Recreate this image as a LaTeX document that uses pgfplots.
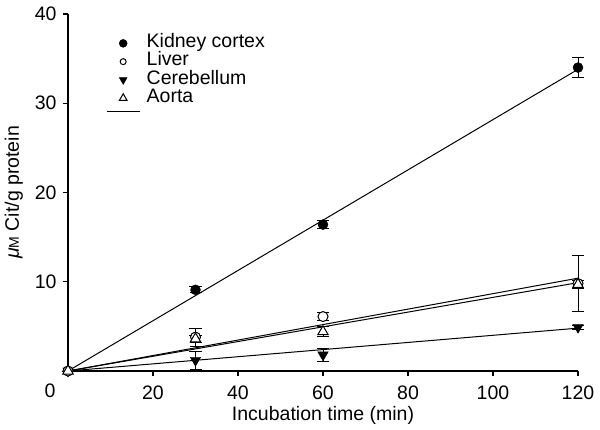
\documentclass[border=0pt]{standalone}
\usepackage{fontspec}
\setmainfont{Liberation Sans}
\usepackage{pgfplots}
\pgfplotsset{compat=1.18}
\newcommand\fs{\fontsize{19.5bp}{22bp}\selectfont}
\begin{document}
\begin{tikzpicture}
\begin{axis}[
 scale only axis, width=510bp, height=357bp,
 xmin=0, xmax=120, ymin=0, ymax=40,
 axis x line*=bottom, axis y line*=left,
 axis line style={line width=1.2bp, -},
 xtick={20,40,...,120}, ytick={10,20,30,40},
 tick align=outside, major tick length=5bp, tick style={line width=1.2bp, black},
 /pgf/number format/assume math mode=true,
 tick label style={font=\fs},
 xticklabel style={yshift=-6bp},
 yticklabel style={xshift=-3bp},
 label style={font=\fs},
 xlabel={Incubation time (min)},
 ylabel={\textit{μ}{\fontsize{14bp}{16bp}\selectfont M} Cit/g protein},
 ylabel style={yshift=5bp},
 clip=false,
 legend style={draw=none, fill=none, font=\fs, at={(rel axis cs:0,1)}, anchor=north west,
   xshift=38.5bp, yshift=-20bp, row sep=0pt, inner sep=0pt,
   nodes={inner sep=0pt, text height=13.5bp, text depth=4.8bp}},
 legend cell align=left,
]
% regression lines
\addplot[black, line width=1bp, forget plot] coordinates {(0,0) (120,33.8)};
\addplot[black, line width=1bp, forget plot] coordinates {(0,0) (120,10.4)};
\addplot[black, line width=1bp, forget plot] coordinates {(0,0) (120,9.9)};
\addplot[black, line width=1bp, forget plot] coordinates {(0,0) (120,4.8)};
% Kidney cortex
\addplot[black, only marks, mark=*, mark size=5bp, forget plot,
  error bars/.cd, y dir=both, y explicit,
  error bar style={line width=1bp, black},
  error mark options={rotate=90, mark size=6bp, line width=1bp, black}]
  table[x=x, y=y, y error=e] {
x y e
0 0 0
30 9.1 0.35
60 16.4 0.45
120 34.0 1.1
};
% Cerebellum
\addplot[black, only marks, mark=triangle*, mark size=6bp, mark options={rotate=180}, forget plot,
  error bars/.cd, y dir=both, y explicit,
  error bar style={line width=1bp, black},
  error mark options={rotate=90, mark size=6bp, line width=1bp, black}]
  table[x=x, y=y, y error=e] {
x y e
0 0 0
30 1.2 1.0
60 1.8 0.7
120 4.9 0.2
};
% Liver
\addplot[black, only marks, mark=*, mark size=5bp, mark options={fill=white, line width=1bp}, forget plot,
  error bars/.cd, y dir=both, y explicit,
  error bar style={line width=1bp, black},
  error mark options={rotate=90, mark size=6bp, line width=1bp, black}]
  table[x=x, y=y, y error=e] {
x y e
0 0 0
30 3.8 1.0
60 6.1 0.45
120 9.8 3.1
};
% Aorta
\addplot[black, only marks, mark=triangle*, mark size=6bp, mark options={fill=white, line width=1bp}, forget plot,
  error bars/.cd, y dir=both, y explicit,
  error bar style={line width=1bp, black},
  error mark options={rotate=90, mark size=6bp, line width=1bp, black}]
  table[x=x, y=y, y error=e] {
x y e
0 0 0
30 3.6 0.4
60 4.4 0.55
120 9.7 0.45
};
% legend
\addlegendimage{only marks, black, mark=*, mark size=4bp}
\addlegendentry{\hspace*{6bp}Kidney cortex}
\addlegendimage{only marks, black, mark=*, mark size=3bp, mark options={fill=white, line width=1bp}}
\addlegendentry{\hspace*{6bp}Liver}
\addlegendimage{only marks, black, mark=triangle*, mark size=4.5bp, mark options={rotate=180}}
\addlegendentry{\hspace*{6bp}Cerebellum}
\addlegendimage{only marks, black, mark=triangle*, mark size=4.5bp, mark options={fill=white, line width=1bp}}
\addlegendentry{\hspace*{6bp}Aorta}
\addlegendimage{legend image code/.code={\draw[black, line width=1bp] (-7.5bp,5bp) -- (25.5bp,5bp);}}
\addlegendentry{}
\node[font=\fs, anchor=center] at ([xshift=-18bp, yshift=-20bp]axis cs:0,0) {0};
\end{axis}
\path[use as bounding box] ([xshift=-68bp, yshift=-59bp]current axis.south west) rectangle ++(600bp,430bp);
\end{tikzpicture}
\end{document}
